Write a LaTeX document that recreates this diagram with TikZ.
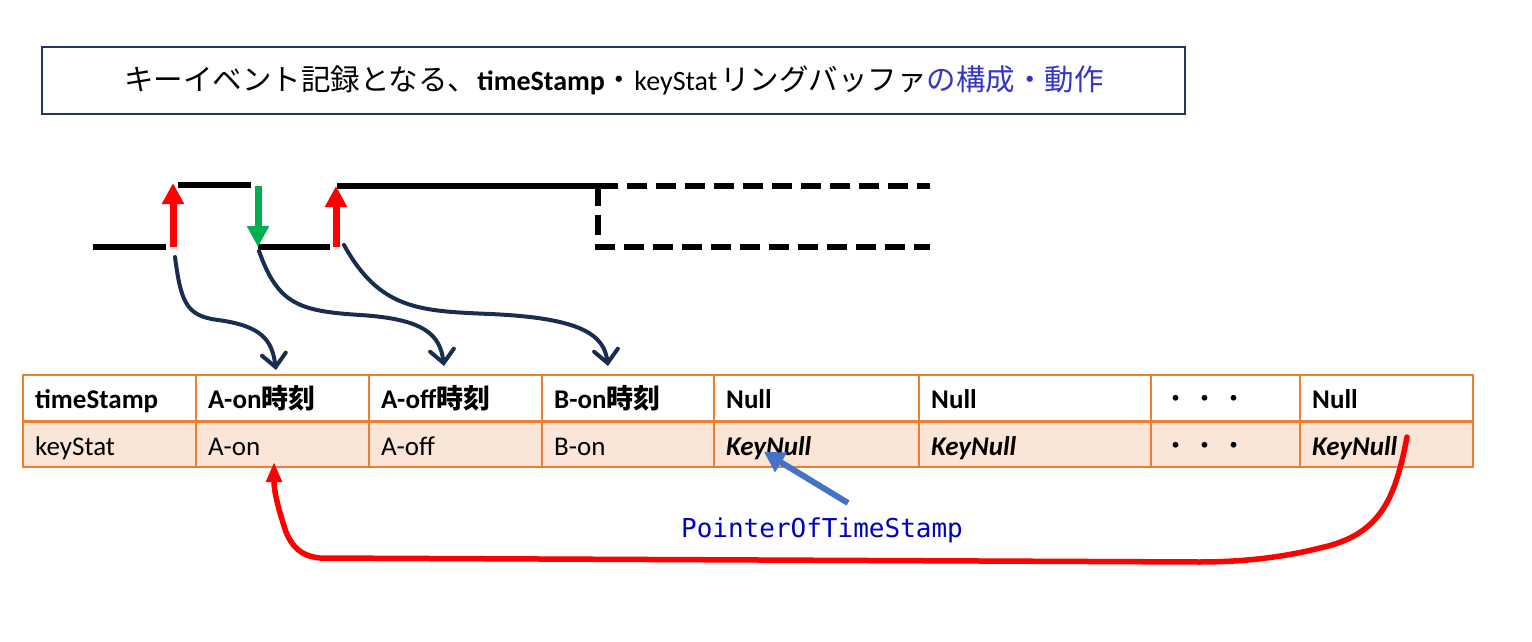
\documentclass[tikz,border=0pt]{standalone}
\usepackage{fontspec}
\setmainfont{Carlito}
\newfontfamily\jp{Noto Sans CJK JP}
\newfontfamily\mono{DejaVu Sans Mono}
\usetikzlibrary{arrows.meta}
\definecolor{navy}{HTML}{1F3864}
\definecolor{arrnavy}{HTML}{1A2C50}
\definecolor{tborder}{HTML}{ED7D31}
\definecolor{tfill}{HTML}{FBE5D6}
\definecolor{tblue}{HTML}{3535C8}
\definecolor{ptrblue}{HTML}{0000C0}
\definecolor{arrblue}{HTML}{4472C4}
\definecolor{sred}{HTML}{FF0000}
\definecolor{sgreen}{HTML}{00B050}
\begin{document}
\begin{tikzpicture}[x=1pt,y=-1pt,
  sig/.style={line width=5.5pt,black},
  sigdash/.style={sig,dash pattern=on 20pt off 9pt},
  edgeup/.style={line width=7pt,sred,-{Triangle[length=21pt,width=21pt]}},
  edgedown/.style={line width=7pt,sgreen,-{Triangle[length=21pt,width=21pt]}},
  recarrow/.style={line width=4pt,arrnavy,line cap=round,-{Straight Barb[length=13pt,width=24pt,line cap=round]}},
  tline/.style={line width=1.5pt,tborder},
  cell/.style={anchor=base west,inner sep=0pt,font=\fontsize{27}{30}\selectfont},
  titlebox/.style={draw=navy,line width=2pt,minimum width=1143pt,minimum height=67pt,inner sep=0pt},
]
\useasboundingbox (0,0) rectangle (1532,642);

% title
\node[titlebox] (tbox) at (613.5,80.5) {};
\node[anchor=base,inner sep=0pt,font=\fontsize{28}{30}\selectfont] (title) at (614,90)
  {{\jp\fontsize{29.5}{30}\selectfont キーイベント記録となる、}\textbf{timeStamp}{\jp\fontsize{29.5}{30}\selectfont ・}keyStat\hspace{3pt}{\jp\fontsize{29.5}{30}\selectfont リングバッファ}\textcolor{tblue}{\jp\fontsize{29.5}{30}\selectfont の構成・動作}};

% signal
\coordinate (l1a) at (93,247);  \coordinate (l1b) at (166,247);
\coordinate (u1a) at (173,247); \coordinate (u1b) at (173,183);
\coordinate (h1a) at (178,185); \coordinate (h1b) at (251,185);
\coordinate (d1a) at (258,186); \coordinate (d1b) at (258,247);
\coordinate (l2a) at (258,247); \coordinate (l2b) at (330,247);
\coordinate (u2a) at (336,247); \coordinate (u2b) at (336,186);
\coordinate (h2a) at (337,186); \coordinate (h2b) at (598,186);
\coordinate (dh) at (930,186);  \coordinate (dl0) at (598,247); \coordinate (dl) at (930,247);
\draw[sig] (l1a) -- (l1b);
\draw[sig] (h1a) -- (h1b);
\draw[sig] (l2a) -- (l2b);
\draw[sig] (h2a) -- (h2b);
\draw[sigdash] (h2b) -- (dh);
\draw[sigdash] (h2b) -- (dl0) -- (dl);
\draw[edgeup] (u1a) -- (u1b);
\draw[edgedown] (d1a) -- (d1b);
\draw[edgeup] (u2a) -- (u2b);

% table
\fill[tfill] (23,421) rectangle (1473,467);
\draw[tline] (23,375) rectangle (1473,467);
\draw[tborder,line width=3pt] (23,421) -- (1473,421);
\foreach \x in {196,369,542,714,919,1151,1300} \draw[tline] (\x,375) -- (\x,467);

\node[cell] (h1) at (35,408) {\textbf{timeStamp}};
\node[cell] (h2) at (208,408) {\textbf{A-on{\jp 時刻}}};
\node[cell] (h3) at (381,408) {\textbf{A-off{\jp 時刻}}};
\node[cell] (h4) at (554,408) {\textbf{B-on{\jp 時刻}}};
\node[cell] (h5) at (726,408) {\textbf{Null}};
\node[cell] (h6) at (931,408) {\textbf{Null}};
\node[cell] (h7) at (1162,408) {\jp ・\hspace{2pt}・\hspace{2pt}・};
\node[cell] (h8) at (1312,408) {\textbf{Null}};

\node[cell] (k1) at (35,455) {keyStat};
\node[cell] (k2) at (208,455) {A-on};
\node[cell] (k3) at (381,455) {A-off};
\node[cell] (k4) at (554,455) {B-on};
\node[cell] (k5) at (726,455) {\textbf{\textit{KeyNull}}};
\node[cell] (k6) at (931,455) {\textbf{\textit{KeyNull}}};
\node[cell] (k7) at (1162,455) {\jp ・\hspace{2pt}・\hspace{2pt}・};
\node[cell] (k8) at (1312,455) {\textbf{\textit{KeyNull}}};

% record arrows
\coordinate (s1) at (175,257); \coordinate (t1) at (276,370);
\coordinate (s2) at (259,251); \coordinate (t2) at (444,366);
\coordinate (s3) at (344,245); \coordinate (t3) at (608,366);
\draw[recarrow] (s1) .. controls (181,302) and (186,316) .. (218,320) .. controls (262,326) and (272,340) .. (t1);
\draw[recarrow] (s2) .. controls (278,305) and (300,311) .. (360,315) .. controls (425,319) and (440,335) .. (t2);
\draw[recarrow] (s3) .. controls (380,310) and (420,311) .. (490,314) .. controls (582,318) and (604,335) .. (t3);

% pointer
\node[inner sep=0pt,anchor=base,font=\mono\fontsize{26}{30}\selectfont,text=ptrblue] (ptr) at (822,537) {PointerOfTimeStamp};
\coordinate (ptail) at (848,503); \coordinate (ptip) at (764,452);
\draw[arrblue,line width=6pt,-{Triangle[length=20pt,width=22pt]}] (ptail) -- (ptip);

% wrap-around
\coordinate (rs) at (1407,437); \coordinate (re) at (274,462);
\draw[sred,line width=5.5pt,line cap=round,line join=round,-{Triangle[length=20pt,width=15pt]}]
  (rs) .. controls (1395,500) and (1380,535) .. (1320,548)
  .. controls (1280,558) and (1240,562) .. (1199,562)
  -- (320,558) .. controls (300,556) and (292,546) .. (286,532)
  .. controls (277,505) and (274,490) .. (re);
\end{tikzpicture}
\end{document}
